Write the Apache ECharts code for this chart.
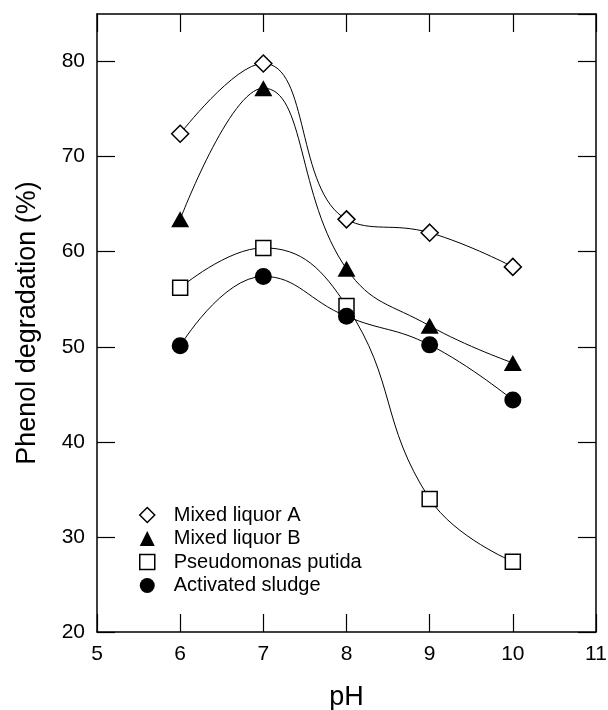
<!DOCTYPE html>
<html>
<head>
<meta charset="utf-8">
<script src="https://cdn.jsdelivr.net/npm/echarts@6/dist/echarts.min.js"></script>
<style>html,body{margin:0;padding:0;background:#fff}#c{width:608px;height:710px}</style>
</head>
<body>
<div id="c"></div>
<script>
var pH = [6, 7, 8, 9, 10];
var mixedA = [72.4, 79.8, 63.4, 62.0, 58.4];
var mixedB = [63.4, 77.2, 58.2, 52.2, 48.3];
var pseudomonas = [56.2, 60.4, 54.3, 34.0, 27.4];
var activated = [50.1, 57.4, 53.2, 50.2, 44.4];
var names = ['Mixed liquor A', 'Mixed liquor B', 'Pseudomonas putida', 'Activated sludge'];

function pairs(v) { return pH.map(function (x, i) { return [x, v[i]]; }); }
var FONT = '"Liberation Sans", Arial, sans-serif';

function mkSeries(name, vals, symbol, size, hollow) {
  return {
    name: name, type: 'line', data: pairs(vals), smooth: 0.45,
    symbol: symbol, symbolSize: size,
    lineStyle: { color: '#000', width: 1 },
    itemStyle: hollow ? { color: '#fff', borderColor: '#000', borderWidth: 1.5 } : { color: '#000', borderColor: '#000', borderWidth: 0 },
    emphasis: { disabled: true }, z: 2
  };
}

var chart = echarts.init(document.getElementById('c'), null, { renderer: 'canvas' });
var axisLine = { show: true, lineStyle: { color: '#000', width: 1.5 } };
var tick = { show: true, inside: true, length: 18, lineStyle: { color: '#000', width: 1.2 } };
chart.setOption({
  animation: false,
  backgroundColor: '#fff',
  textStyle: { fontFamily: FONT },
  grid: { left: 97, right: 12, top: 14, bottom: 78, containLabel: false, outerBoundsMode: 'none' },
  legend: {
    orient: 'vertical', left: 139, top: 505, padding: 0,
    itemWidth: 15, itemHeight: 15, itemGap: 3.5, symbolKeepAspect: true,
    textStyle: { fontSize: 20, lineHeight: 20, color: '#000', fontFamily: FONT, padding: [0, 0, 0, 14] },
    selectedMode: false,
    data: [
      { name: names[0], icon: 'diamond', itemStyle: { color: '#fff', borderColor: '#000', borderWidth: 1.5 } },
      { name: names[1], icon: 'triangle', itemStyle: { color: '#000', borderWidth: 0 } },
      { name: names[2], icon: 'rect', itemStyle: { color: '#fff', borderColor: '#000', borderWidth: 1.5 } },
      { name: names[3], icon: 'circle', itemStyle: { color: '#000', borderWidth: 0 } }
    ]
  },
  xAxis: [
    { type: 'value', min: 5, max: 11, interval: 1, position: 'bottom',
      name: 'pH', nameLocation: 'middle', nameGap: 52,
      nameTextStyle: { fontSize: 27, color: '#000', fontFamily: FONT },
      axisLine: axisLine, axisTick: tick, splitLine: { show: false },
      axisLabel: { fontSize: 21, color: '#000', margin: 12, fontFamily: FONT } },
    { type: 'value', min: 5, max: 11, interval: 1, position: 'top',
      axisLine: axisLine, axisTick: tick, splitLine: { show: false }, axisLabel: { show: false } }
  ],
  yAxis: [
    { type: 'value', min: 20, max: 85, interval: 10, position: 'left',
      name: 'Phenol degradation (%)', nameLocation: 'middle', nameGap: 56,
      nameTextStyle: { fontSize: 27, color: '#000', fontFamily: FONT },
      axisLine: axisLine, axisTick: tick, splitLine: { show: false },
      axisLabel: { fontSize: 21, color: '#000', margin: 12, fontFamily: FONT, showMaxLabel: false,
        formatter: function (v) { return v > 80 ? '' : String(v); } } },
    { type: 'value', min: 20, max: 85, interval: 10, position: 'right',
      axisLine: axisLine, axisTick: tick, splitLine: { show: false }, axisLabel: { show: false } }
  ],
  series: [
    mkSeries(names[0], mixedA, 'diamond', 17, true),
    mkSeries(names[1], mixedB, 'triangle', [18, 16], false),
    mkSeries(names[2], pseudomonas, 'rect', 15, true),
    mkSeries(names[3], activated, 'circle', 17, false)
  ]
});
</script>
</body>
</html>
